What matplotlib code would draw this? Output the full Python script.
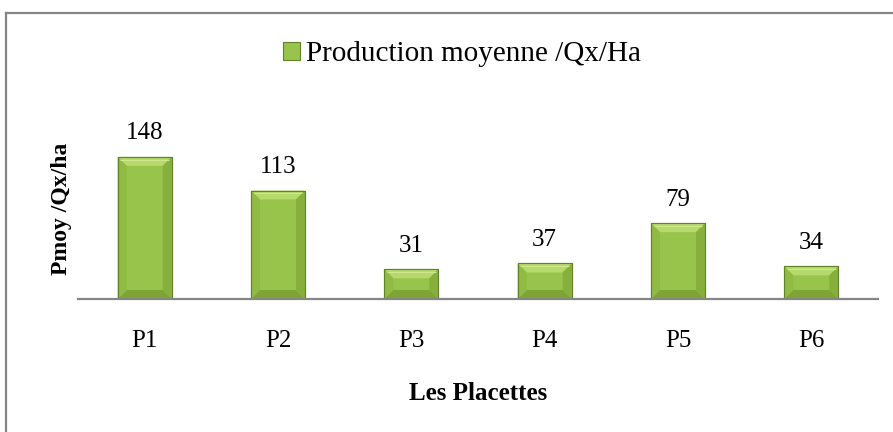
import matplotlib
matplotlib.use("Agg")
import matplotlib.pyplot as plt
from matplotlib.patches import Polygon, Patch
from matplotlib.lines import Line2D

# data
placettes = ["P1", "P2", "P3", "P4", "P5", "P6"]
production = [148, 113, 31, 37, 79, 34]
legend_label = "Production moyenne /Qx/Ha"
x_label = "Les Placettes"
y_label = "Pmoy /Qx/ha"

FACE = "#98c44c"
EDGE = "#62822a"
TOP = "#b5d96a"
SIDE_L = "#8fba44"
SIDE_R = "#86af3c"
BOTTOM = "#7da435"
FRAME = "#868686"

plt.rcParams["font.family"] = ["Liberation Serif", "DejaVu Serif"]

fig = plt.figure(figsize=(8.93, 4.32), dpi=100)
W, H = 893, 432

# axes placed to match the reference pixel layout
left, right, base = 78, 878, 299
ymax = 160
px_per_unit = 0.96
top = base - ymax * px_per_unit
ax = fig.add_axes([left / W, 1 - base / H, (right - left) / W, (base - top) / H])
ax.set_xlim(-0.5, len(placettes) - 0.5)
ax.set_ylim(0, ymax)

bars = ax.bar(placettes, production, width=0.405, color=FACE,
              edgecolor=EDGE, linewidth=0.8, zorder=2)

# bevel effect drawn from each bar's own geometry
ux = ax.transData.transform((1, 0))[0] - ax.transData.transform((0, 0))[0]
uy = ax.transData.transform((0, 1))[1] - ax.transData.transform((0, 0))[1]
bx, by = 9 / ux, 9 / uy
for rect in bars:
    x0, y0 = rect.get_x(), rect.get_y()
    x1, y1 = x0 + rect.get_width(), y0 + rect.get_height()
    d = min(by, (y1 - y0) / 2)
    quads = [
        ([(x0, y1), (x1, y1), (x1 - bx, y1 - d), (x0 + bx, y1 - d)], TOP),
        ([(x0, y0), (x1, y0), (x1 - bx, y0 + d), (x0 + bx, y0 + d)], BOTTOM),
        ([(x0, y0), (x0 + bx, y0 + d), (x0 + bx, y1 - d), (x0, y1)], SIDE_L),
        ([(x1, y0), (x1 - bx, y0 + d), (x1 - bx, y1 - d), (x1, y1)], SIDE_R),
    ]
    for pts, c in quads:
        ax.add_patch(Polygon(pts, closed=True, facecolor=c, edgecolor="none", zorder=3))
    # thin highlight line just under the top edge
    ax.plot([x0 + bx * 0.3, x1 - bx * 0.3], [y1 - d * 0.3] * 2, color="#cfe88f",
            lw=0.8, zorder=3.5, solid_capstyle="butt")
    ax.add_patch(Polygon([(x0, y0), (x1, y0), (x1, y1), (x0, y1)], closed=True,
                         facecolor="none", edgecolor=EDGE, linewidth=0.8, zorder=4))

for i, v in enumerate(production):
    ax.annotate(str(v), (i, v), xytext=(0, 9), textcoords="offset points",
                ha="center", va="bottom", fontsize=18)

for s in ["top", "right", "left"]:
    ax.spines[s].set_visible(False)
ax.spines["bottom"].set_color(FRAME)
ax.spines["bottom"].set_linewidth(1.6)
ax.spines["bottom"].set_zorder(5)
ax.set_yticks([])
ax.tick_params(axis="x", length=0, pad=22, labelsize=18)

ax.set_xlabel(x_label, fontsize=18, fontweight="bold")
ax.xaxis.set_label_coords(0.5, -0.54)
ax.set_ylabel(y_label, fontsize=17, fontweight="bold")
ax.yaxis.set_label_coords(-0.008, 0.589)

handle = Patch(facecolor=FACE, edgecolor=EDGE, linewidth=0.8)
fig.legend([handle], [legend_label], loc="center", bbox_to_anchor=(0.517, 1 - 54 / H),
           frameon=False, fontsize=21, handlelength=0.58, handleheight=0.58,
           handletextpad=0.2)

# outer chart frame (only left and top edges visible in the crop)
fig.add_artist(Line2D([5.5 / W, 5.5 / W], [0, 1 - 12.5 / H], color=FRAME, lw=1.6))
fig.add_artist(Line2D([5.5 / W, 1], [1 - 12.5 / H, 1 - 12.5 / H], color=FRAME, lw=1.6))

fig.savefig("out.png", dpi=100)
